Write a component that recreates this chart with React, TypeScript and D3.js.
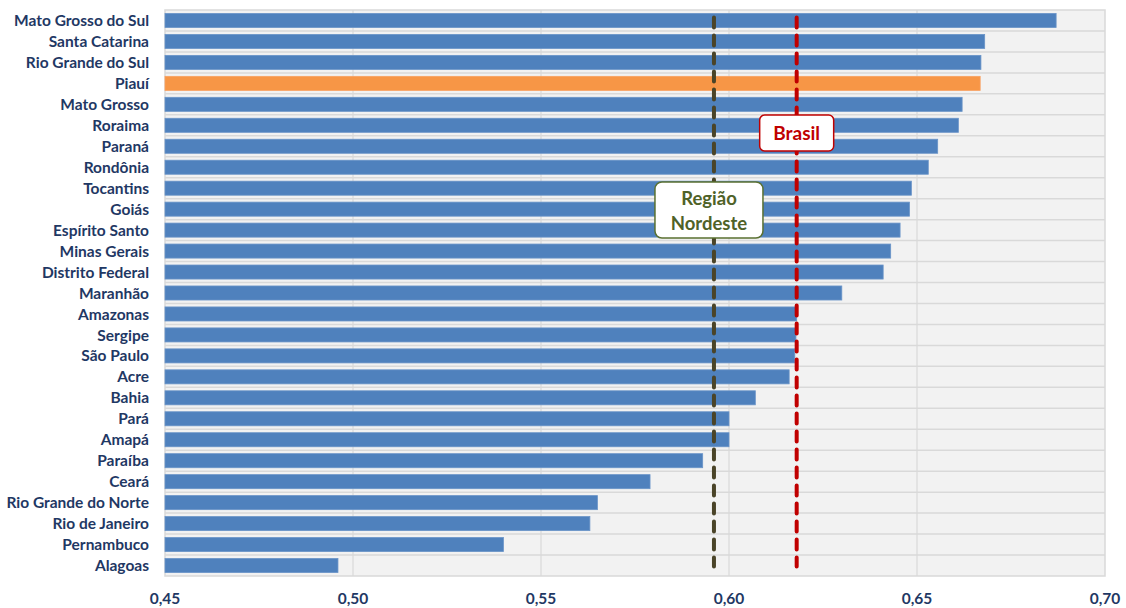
import { useEffect, useRef } from 'react'
import * as d3 from 'd3'

const states = [
  'Mato Grosso do Sul', 'Santa Catarina', 'Rio Grande do Sul', 'Piauí', 'Mato Grosso',
  'Roraima', 'Paraná', 'Rondônia', 'Tocantins', 'Goiás', 'Espírito Santo', 'Minas Gerais',
  'Distrito Federal', 'Maranhão', 'Amazonas', 'Sergipe', 'São Paulo', 'Acre', 'Bahia',
  'Pará', 'Amapá', 'Paraíba', 'Ceará', 'Rio Grande do Norte', 'Rio de Janeiro',
  'Pernambuco', 'Alagoas',
]
const values = [
  0.687, 0.668, 0.667, 0.6668, 0.662,
  0.661, 0.6555, 0.653, 0.6485, 0.648, 0.6455, 0.643,
  0.641, 0.630, 0.618, 0.6178, 0.6175, 0.616, 0.607,
  0.600, 0.6, 0.593, 0.579, 0.565, 0.563,
  0.540, 0.496,
]
const highlight = 'Piauí'
const xTicks = [0.45, 0.5, 0.55, 0.6, 0.65, 0.7]
const nordeste = 0.596
const brasil = 0.618

const W = 1126
const H = 608
const FONT = 'Lato, "Open Sans", sans-serif'

export default function App() {
  const svgRef = useRef<SVGSVGElement>(null)

  useEffect(() => {
    if (!svgRef.current) return
    const svg = d3.select(svgRef.current)
    svg.selectAll('*').remove()

    const left = 165, right = 1105, top = 10, bottom = 576
    const x = d3.scaleLinear().domain([0.45, 0.7]).range([left, right])
    const y = d3.scaleBand<string>().domain(states).range([top, bottom]).paddingInner(0.33).paddingOuter(0.165)
    const step = y.step()

    svg.append('rect')
      .attr('x', left).attr('y', top).attr('width', right - left).attr('height', bottom - top)
      .attr('fill', '#f2f2f2').attr('stroke', '#d9d9d9').attr('stroke-width', 1.5)

    // separators between rows
    svg.append('g').selectAll('line').data(d3.range(1, states.length)).enter().append('line')
      .attr('x1', left).attr('x2', right)
      .attr('y1', i => top + i * step).attr('y2', i => top + i * step)
      .attr('stroke', '#d9d9d9').attr('stroke-width', 1.5)

    svg.append('g').selectAll('line').data(xTicks.slice(1, -1)).enter().append('line')
      .attr('x1', d => x(d)).attr('x2', d => x(d))
      .attr('y1', top).attr('y2', bottom)
      .attr('stroke', '#d9d9d9').attr('stroke-width', 1.2)

    svg.append('g').selectAll('rect').data(states).enter().append('rect')
      .attr('x', x(0.45))
      .attr('y', d => y(d)!)
      .attr('width', (d, i) => x(values[i]) - x(0.45))
      .attr('height', y.bandwidth())
      .attr('fill', d => d === highlight ? '#f79646' : '#4f81bd')
      .attr('stroke', d => d === highlight ? '#f8a060' : '#6a94c8')
      .attr('stroke-width', 0.8)

    svg.append('g').selectAll('text').data(states).enter().append('text')
      .attr('x', left - 16)
      .attr('y', d => y(d)! + y.bandwidth() / 2)
      .attr('dy', '0.36em')
      .attr('text-anchor', 'end')
      .attr('font-family', FONT)
      .attr('font-weight', 'bold')
      .attr('font-size', 15.5)
      .attr('fill', '#1f3864')
      .text(d => d)

    svg.append('g').selectAll('text').data(xTicks).enter().append('text')
      .attr('x', d => x(d))
      .attr('y', 604)
      .attr('text-anchor', 'middle')
      .attr('font-family', FONT)
      .attr('font-weight', 'bold')
      .attr('font-size', 15.5)
      .attr('fill', '#1f3864')
      .text(d => d3.format('.2f')(d).replace('.', ','))

    const lineTop = y(states[0])! + 4
    const lineBottom = y(states[states.length - 1])! + y.bandwidth() - 6
    const refs = [
      { v: nordeste, color: '#4a4428' },
      { v: brasil, color: '#c00000' },
    ]
    svg.append('g').selectAll('line').data(refs).enter().append('line')
      .attr('x1', d => x(d.v)).attr('x2', d => x(d.v))
      .attr('y1', lineTop).attr('y2', lineBottom)
      .attr('stroke', d => d.color)
      .attr('stroke-width', 4)
      .attr('stroke-linecap', 'round')
      .attr('stroke-dasharray', '10 8')

    // Brasil label
    const bx = x(brasil)
    svg.append('rect')
      .attr('x', bx - 37).attr('y', 115).attr('width', 74).attr('height', 36)
      .attr('rx', 5).attr('fill', '#fff').attr('stroke', '#c00000').attr('stroke-width', 1.5)
    svg.append('text')
      .attr('x', bx).attr('y', 133).attr('dy', '0.36em')
      .attr('text-anchor', 'middle')
      .attr('font-family', FONT)
      .attr('font-weight', 'bold').attr('font-size', 19)
      .attr('fill', '#c00000')
      .text('Brasil')

    // Nordeste label
    const nx = x(nordeste) - 5
    svg.append('rect')
      .attr('x', nx - 54).attr('y', 182).attr('width', 108).attr('height', 56)
      .attr('rx', 7).attr('fill', '#fff').attr('stroke', '#5a7030').attr('stroke-width', 1.5)
    const nt = svg.append('text')
      .attr('text-anchor', 'middle')
      .attr('font-family', FONT)
      .attr('font-weight', 'bold').attr('font-size', 18.5)
      .attr('fill', '#4f6228')
    nt.append('tspan').attr('x', nx).attr('y', 205).text('Região')
    nt.append('tspan').attr('x', nx).attr('y', 230).text('Nordeste')
  }, [])

  return <svg ref={svgRef} width={W} height={H} style={{ position: 'absolute', left: 0, top: 0 }} />
}
